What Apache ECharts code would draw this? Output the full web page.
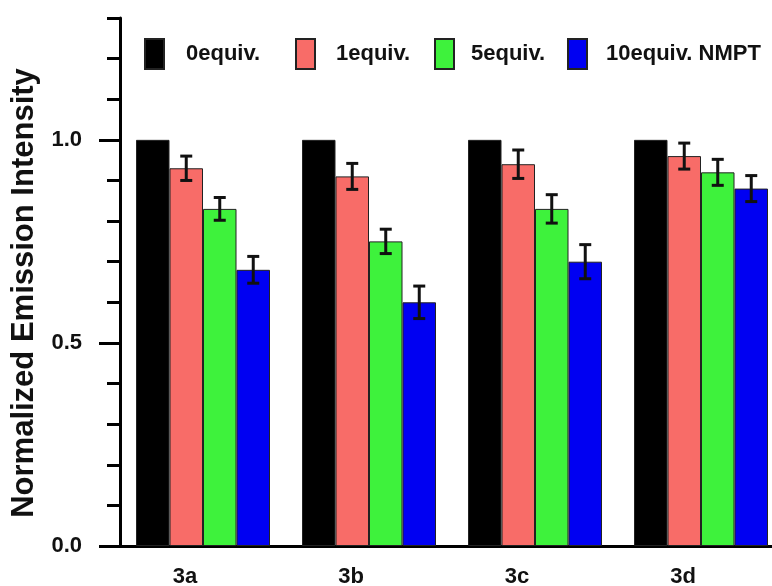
<!DOCTYPE html>
<html>
<head>
<meta charset="utf-8">
<script src="https://cdn.jsdelivr.net/npm/echarts@6/dist/echarts.min.js"></script>
<style>
html,body{margin:0;padding:0;background:#fff;}
#chart{width:772px;height:586px;}
</style>
</head>
<body>
<div id="chart"></div>
<script>
const categories = ['3a', '3b', '3c', '3d'];
const seriesNames = ['0equiv.', '1equiv.', '5equiv.', '10equiv. NMPT'];
const values0 = [1.00, 1.00, 1.00, 1.00];
const values1 = [0.93, 0.91, 0.94, 0.96];
const values5 = [0.83, 0.75, 0.83, 0.92];
const values10 = [0.68, 0.60, 0.70, 0.88];
const errors0 = [0, 0, 0, 0];
const errors1 = [0.030, 0.032, 0.035, 0.032];
const errors5 = [0.028, 0.030, 0.035, 0.032];
const errors10 = [0.033, 0.040, 0.042, 0.032];
const yTickLabels = [0, 0.5, 1.0];

const allValues = [values0, values1, values5, values10];
const allErrors = [errors0, errors1, errors5, errors10];
const colors = ['#000000', '#F86C68', '#3EF23C', '#0000F2'];
const barW = 33.5;
const legendLefts = [144, 295, 434, 567];
const legendTextPad = [17, 16, 12, 14];
const font = 'Arial, "Liberation Sans", Helvetica, sans-serif';

const chart = echarts.init(document.getElementById('chart'));

const barSeries = seriesNames.map((name, i) => ({
  name: name,
  type: 'bar',
  xAxisIndex: 0,
  yAxisIndex: 0,
  barWidth: barW,
  barGap: '0%',
  data: allValues[i],
  itemStyle: { color: colors[i], borderColor: '#222', borderWidth: 1 },
  emphasis: { disabled: true },
  z: 2
}));

const errSeries = seriesNames.map((name, i) => ({
  type: 'custom',
  xAxisIndex: 0,
  yAxisIndex: 0,
  z: 5,
  silent: true,
  data: allValues[i].map((v, k) => [k, v, allErrors[i][k]]),
  renderItem: function (params, api) {
    const c = api.value(0), v = api.value(1), e = api.value(2);
    if (!e) return null;
    const p = api.coord([c, v]);
    const x = p[0] + (i - 1.5) * barW;
    const yT = api.coord([c, v + e])[1];
    const yB = api.coord([c, v - e])[1];
    const hw = 6;
    const st = { stroke: '#111', lineWidth: 3 };
    return {
      type: 'group',
      children: [
        { type: 'line', shape: { x1: x, y1: yT, x2: x, y2: yB }, style: st },
        { type: 'line', shape: { x1: x - hw, y1: yT, x2: x + hw, y2: yT }, style: st },
        { type: 'line', shape: { x1: x - hw, y1: yB, x2: x + hw, y2: yB }, style: st }
      ]
    };
  }
}));

const option = {
  backgroundColor: '#fff',
  animation: false,
  grid: { left: 120, top: 18, width: 664, bottom: 40, outerBoundsMode: 'none', containLabel: false },
  legend: seriesNames.map((n, i) => ({
    data: [n],
    left: legendLefts[i],
    top: 38,
    padding: 0,
    itemWidth: 19,
    itemHeight: 30,
    selectedMode: false,
    icon: 'rect',
    textStyle: { fontSize: 22, fontWeight: 'bold', color: '#111', fontFamily: font, padding: [0, 0, 0, legendTextPad[i]] }
  })),
  xAxis: [
    {
      type: 'category',
      data: categories,
      position: 'bottom',
      axisLine: { show: true, lineStyle: { color: '#000', width: 3 } },
      axisTick: { show: false },
      axisLabel: { fontSize: 22, fontWeight: 'bold', color: '#111', fontFamily: font, margin: 20, padding: [0, 36, 0, 0] },
      splitLine: { show: false }
    },
    {
      type: 'category',
      data: categories,
      position: 'top',
      axisLine: { show: true, lineStyle: { color: '#000', width: 3 } },
      axisTick: { show: false },
      axisLabel: { show: false },
      splitLine: { show: false }
    }
  ],
  yAxis: [
    {
      type: 'value',
      min: 0,
      max: 1.3,
      interval: 0.1,
      position: 'left',
      name: 'Normalized Emission Intensity',
      nameLocation: 'middle',
      nameGap: 80,
      nameTextStyle: { fontSize: 31, fontWeight: 'bold', color: '#111', fontFamily: font, padding: [0, 22, 0, 0] },
      axisLine: { show: true, lineStyle: { color: '#000', width: 3 } },
      axisTick: { show: true, customValues: yTickLabels, length: 21, lineStyle: { color: '#000', width: 3 } },
      axisLabel: {
        customValues: yTickLabels,
        formatter: v => Number(v).toFixed(1),
        fontSize: 22, fontWeight: 'bold', color: '#111', fontFamily: font, margin: 38
      },
      splitLine: { show: false }
    },
    {
      type: 'value',
      min: 0,
      max: 1.3,
      interval: 0.1,
      position: 'left',
      axisLine: { show: false },
      axisTick: { show: true, length: 13, lineStyle: { color: '#000', width: 3 } },
      axisLabel: { show: false },
      splitLine: { show: false }
    }
  ],
  series: barSeries.concat(errSeries)
};

chart.setOption(option);
</script>
</body>
</html>
